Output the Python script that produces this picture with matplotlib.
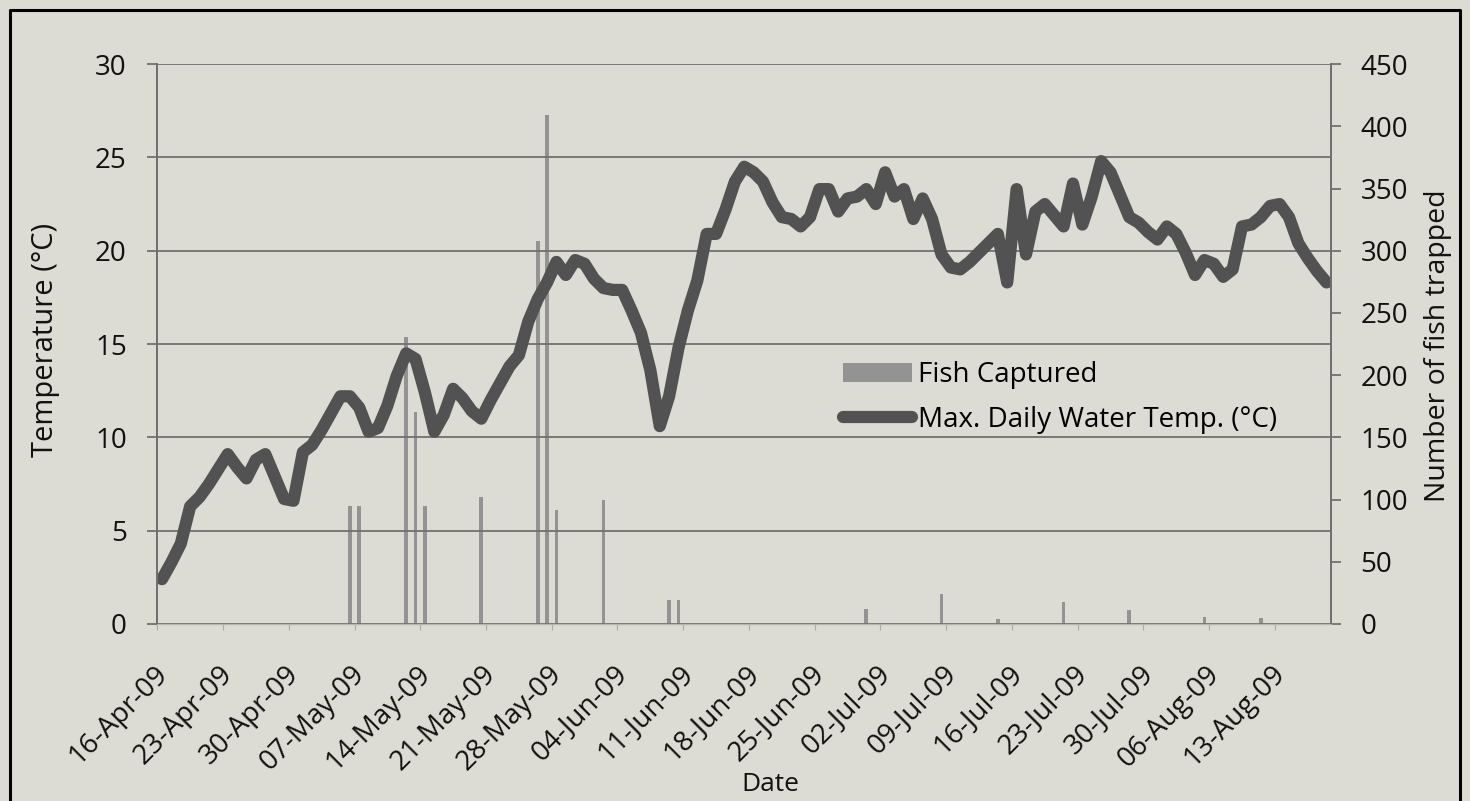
import numpy as np
import pandas as pd
import matplotlib
matplotlib.use('Agg')
import matplotlib.pyplot as plt
import matplotlib.dates as mdates
import matplotlib.transforms as mtransforms
from matplotlib.lines import Line2D

# daily max water temperature (deg C), one value per day from 16-Apr-09
max_temp = [
    2.4, 3.3, 4.3, 6.3, 6.8, 7.5, 8.3, 9.1, 8.4, 7.8,
    8.8, 9.1, 7.9, 6.7, 6.6, 9.2, 9.6, 10.4, 11.3, 12.2,
    12.2, 11.6, 10.3, 10.5, 11.7, 13.3, 14.5, 14.2, 12.4, 10.3,
    11.2, 12.6, 12.1, 11.4, 11.0, 12.0, 12.9, 13.8, 14.4, 16.2,
    17.4, 18.3, 19.4, 18.7, 19.5, 19.3, 18.5, 18.0, 17.9, 17.9,
    16.8, 15.6, 13.6, 10.6, 12.2, 14.8, 16.8, 18.4, 20.9, 20.9,
    22.2, 23.7, 24.5, 24.2, 23.7, 22.6, 21.8, 21.7, 21.3, 21.8,
    23.3, 23.3, 22.1, 22.8, 22.9, 23.3, 22.5, 24.2, 22.9, 23.3,
    21.7, 22.8, 21.7, 19.8, 19.1, 19.0, 19.4, 19.9, 20.4, 20.9,
    18.3, 23.3, 19.8, 22.1, 22.5, 21.9, 21.3, 23.6, 21.4, 22.9,
    24.8, 24.2, 23.0, 21.8, 21.5, 21.0, 20.6, 21.3, 20.9, 19.9,
    18.7, 19.5, 19.3, 18.6, 19.0, 21.3, 21.4, 21.8, 22.4, 22.5,
    21.8, 20.4, 19.6, 18.9, 18.3,
]

fish_dates = [
    '2009-05-06', '2009-05-07', '2009-05-12', '2009-05-13', '2009-05-14',
    '2009-05-20', '2009-05-26', '2009-05-27', '2009-05-28', '2009-06-02',
    '2009-06-09', '2009-06-10', '2009-06-30', '2009-07-08', '2009-07-14',
    '2009-07-21', '2009-07-28', '2009-08-05', '2009-08-11',
]
fish_counts = [95, 95, 231, 170, 95, 102, 308, 409, 92, 100,
               19, 19, 12, 24, 4, 18, 11, 6, 5]

start = pd.Timestamp('2009-04-16')
days = pd.date_range(start, periods=len(max_temp), freq='D')
fish_days = pd.to_datetime(fish_dates)
tick_days = pd.date_range(start, '2009-08-13', freq='7D')
half = pd.Timedelta(hours=12)

bg = '#dcdcd4'
grid_col = '#707070'
txt_col = '#111111'
plt.rcParams['font.family'] = ['Open Sans', 'DejaVu Sans']

fig = plt.figure(figsize=(14.7, 8.01), dpi=100, facecolor=bg)
ax = fig.add_axes([0.107, 0.221, 0.7986, 0.699])
ax2 = ax.twinx()
ax.set_zorder(ax2.get_zorder() + 1)
ax.patch.set_visible(False)
ax2.set_facecolor(bg)

ax2.bar(fish_days + half, fish_counts, width=0.4, color='#939393',
        label='Fish Captured')
ax.plot(days + half, max_temp, color='#525252', lw=8.8,
        solid_capstyle='round', solid_joinstyle='round',
        label='Max. Daily Water Temp. (°C)')

ax.set_xlim(start, start + pd.Timedelta(days=len(max_temp)))
ax.set_ylim(0, 30)
ax2.set_ylim(0, 450)
ax.set_yticks(np.arange(0, 31, 5))
ax2.set_yticks(np.arange(0, 451, 50))
ax.yaxis.grid(True, color=grid_col, lw=1.3)
ax.set_axisbelow(True)

ax.set_xticks(tick_days)
ax.xaxis.set_major_formatter(mdates.DateFormatter('%d-%b-%y'))
ax.tick_params(axis='x', labelsize=20, length=4, color='#aaaaaa',
               pad=29, labelcolor=txt_col)
ax.tick_params(axis='y', labelsize=20, length=7, color=grid_col,
               width=1.3, pad=15, labelcolor=txt_col)
ax2.tick_params(axis='y', labelsize=20, length=7, color=grid_col,
                width=1.3, pad=14, labelcolor=txt_col)

shift = mtransforms.ScaledTranslation(0.06, 0, fig.dpi_scale_trans)
for lab in ax.get_xticklabels():
    lab.set_rotation(45)
    lab.set_ha('right')
    lab.set_va('center')
    lab.set_rotation_mode('anchor')
    lab.set_transform(lab.get_transform() + shift)

for a in (ax, ax2):
    a.spines['top'].set_visible(False)
    a.spines['left'].set_color(grid_col)
    a.spines['right'].set_color(grid_col)
    a.spines['bottom'].set_color('#b4b4b0')
    a.spines['left'].set_linewidth(1.3)
    a.spines['right'].set_linewidth(1.3)

fig.text(0.031, 0.575, 'Temperature (°C)', rotation=90, ha='center',
         va='center', fontsize=21, color=txt_col)
fig.text(0.978, 0.569, 'Number of fish trapped', rotation=90, ha='center',
         va='center', fontsize=20.5, color=txt_col)
fig.text(0.524, 0.02, 'Date', ha='center', va='center', fontsize=19,
         color=txt_col)

h1, l1 = ax2.get_legend_handles_labels()
h2, l2 = ax.get_legend_handles_labels()
ax.legend(h1 + h2, l1 + l2, loc='upper left',
          bbox_to_anchor=(843 / 1470, 1 - 361 / 801),
          bbox_transform=fig.transFigure, frameon=False, fontsize=20,
          handlelength=2.5, handletextpad=0.2, labelspacing=0.6,
          borderaxespad=0, borderpad=0)

# chart border (left, top, right)
fig.add_artist(Line2D([0.0068, 0.0068, 0.9932, 0.9932],
                      [0.0, 0.9875, 0.9875, 0.0],
                      transform=fig.transFigure, color='black', lw=2.2))

fig.savefig('out.png', dpi=100, facecolor=bg)
